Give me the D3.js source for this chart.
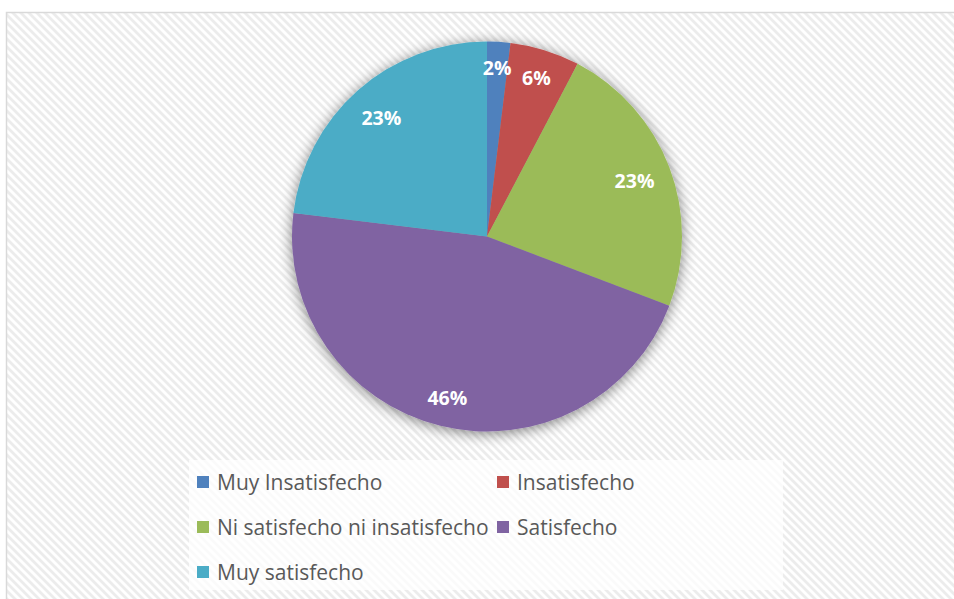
<!DOCTYPE html>
<html><head><meta charset="utf-8">
<script src="https://cdn.jsdelivr.net/npm/d3@7"></script>
<style>html,body{margin:0;padding:0;background:#fff;overflow:hidden}</style>
</head><body>
<svg id="chart" width="954" height="599"></svg>
<script>
const categories = ["Muy Insatisfecho","Insatisfecho","Ni satisfecho ni insatisfecho","Satisfecho","Muy satisfecho"];
const values = [1,3,12,24,12];
const colors = ["#4f81bd","#c0504d","#9bbb59","#8064a2","#4bacc6"];

const svg = d3.select("#chart");
const defs = svg.append("defs");
const pat = defs.append("pattern").attr("id","hatch").attr("patternUnits","userSpaceOnUse")
  .attr("width",8).attr("height",8);
pat.append("rect").attr("width",8).attr("height",8).attr("fill","#ffffff");
pat.append("path").attr("d","M-2,-2 L10,10 M-2,6 L2,10 M6,-2 L10,2")
  .attr("stroke","#ececec").attr("stroke-width",2.8);
const f = defs.append("filter").attr("id","shadow").attr("x","-20%").attr("y","-20%").attr("width","140%").attr("height","140%");
f.append("feGaussianBlur").attr("in","SourceAlpha").attr("stdDeviation",7).attr("result","b");
f.append("feOffset").attr("in","b").attr("dx",0).attr("dy",2).attr("result","o");
f.append("feComponentTransfer").attr("in","o").attr("result","s")
  .append("feFuncA").attr("type","linear").attr("slope",0.5);
const m = f.append("feMerge");
m.append("feMergeNode").attr("in","s");
m.append("feMergeNode").attr("in","SourceGraphic");

// chart area
svg.append("rect").attr("x",6.5).attr("y",12.5).attr("width",1000).attr("height",700)
  .attr("fill","url(#hatch)").attr("stroke","#d9d9d9").attr("stroke-width",1.5);

const cx = 487, cy = 236.5, R = 195;
const total = d3.sum(values);
const pie = d3.pie().sort(null).value(d=>d)(values);
const arc = d3.arc().innerRadius(0).outerRadius(R);
const g = svg.append("g").attr("transform",`translate(${cx},${cy})`);
const slices = g.append("g").attr("filter","url(#shadow)");
slices.selectAll("path").data(pie).join("path")
  .attr("d",arc).attr("fill",(d,i)=>colors[i]);

const fmt = d3.format(".0%");
g.selectAll("text.lbl").data(pie).join("text").attr("class","lbl")
  .attr("font-family","'Open Sans', sans-serif").attr("font-weight","bold")
  .attr("font-size",19.5).attr("fill","#ffffff").attr("text-anchor","middle")
  .attr("dominant-baseline","central")
  .text(d=>fmt(d.value/total))
  .each(function(d){
    const a = (d.startAngle+d.endAngle)/2;
    const w = this.getComputedTextLength()/2, h = 10;
    const r = R - 15 - (w*Math.abs(Math.sin(a)) + h*Math.abs(Math.cos(a)));
    d3.select(this).attr("x", r*Math.sin(a)).attr("y", -r*Math.cos(a));
  });

// legend
const lg = svg.append("g");
lg.append("rect").attr("x",189).attr("y",460).attr("width",594).attr("height",130)
  .attr("fill","#ffffff").attr("fill-opacity",0.75);
const colX = [197, 497], rowY = [482, 527, 572];
categories.forEach((c,i)=>{
  const x = colX[i%2], y = rowY[Math.floor(i/2)];
  lg.append("rect").attr("x",x).attr("y",y-6).attr("width",12).attr("height",12).attr("fill",colors[i]);
  lg.append("text").attr("x",x+20).attr("y",y).attr("dominant-baseline","central")
    .attr("font-family","'Open Sans', sans-serif").attr("font-size",21).attr("fill","#595959")
    .text(c);
});
</script>
</body></html>
